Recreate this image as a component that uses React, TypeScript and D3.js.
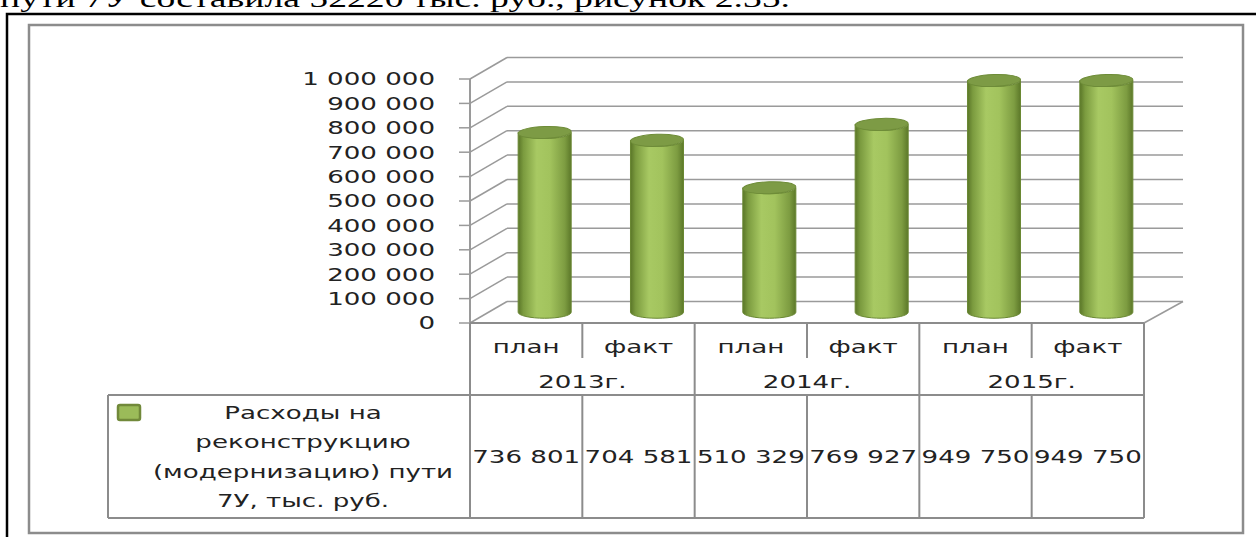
import React, { useRef, useEffect } from 'react'
import * as d3 from 'd3'

// данные диаграммы
const years = ['2013г.', '2014г.', '2015г.']
const periods = ['план', 'факт']
const values = [736801, 704581, 510329, 769927, 949750, 949750]
const legendLines = ['Расходы на', 'реконструкцию', '(модернизацию) пути', '7У, тыс. руб.']
const headerText = 'пути 7У составила 52220 тыс. руб., рисунок 2.35.'

const W = 1256
const H = 537
const FONT = '"DejaVu Sans", sans-serif'
const SX = 1.45 // текст в оригинале растянут по горизонтали

export default function App() {
    const svgRef = useRef<SVGSVGElement>(null)

    useEffect(() => {
        const svg = d3.select(svgRef.current)
        svg.selectAll('*').remove()

        const categories = years.flatMap((y) => periods.map((p) => `${y} ${p}`))
        const fmt = d3.formatLocale({ thousands: ' ', grouping: [3], decimal: ',', currency: ['', ''] }).format(',')

        // геометрия области построения
        const left = 470
        const right = 1144
        const depth = { dx: 37, dy: -21.5 }
        const tableTop = 323
        const rowSplit = 358
        const yearLine = 395
        const tableBottom = 518
        const legendLeft = 108

        const x = d3.scaleBand<string>().domain(categories).range([left, right]).paddingInner(0)
        const y = d3.scaleLinear().domain([0, 1000000]).range([tableTop, 79])
        const ticks = y.ticks(10)
        const grid = '#9a9a9a'
        const border = '#8c8c8c'

        const label = (
            parent: d3.Selection<any, unknown, null, undefined>,
            px: number,
            py: number,
            str: string,
            anchor = 'middle',
            size = 18,
        ) =>
            parent
                .append('text')
                .attr('transform', `translate(${px},${py}) scale(${SX},1)`)
                .attr('text-anchor', anchor)
                .attr('dy', '0.36em')
                .style('font-family', FONT)
                .style('font-size', size + 'px')
                .attr('fill', '#222')
                .text(str)

        // текст документа сверху (обрезан)
        svg.append('text')
            .attr('x', 0)
            .attr('y', 7)
            .attr('textLength', 790)
            .attr('lengthAdjust', 'spacingAndGlyphs')
            .style('font-family', '"Liberation Serif", serif')
            .style('font-size', '26px')
            .attr('fill', '#000')
            .text(headerText)

        // рамка страницы
        svg.append('path')
            .attr('d', `M7,${H} V14 H${W}`)
            .attr('fill', 'none')
            .attr('stroke', '#000')
            .attr('stroke-width', 2.5)

        // рамка диаграммы
        svg.append('rect')
            .attr('x', 29)
            .attr('y', 25)
            .attr('width', 1214)
            .attr('height', 508)
            .attr('fill', '#fff')
            .attr('stroke', border)
            .attr('stroke-width', 2.5)

        const g = svg.append('g')

        // линии сетки: задняя стенка и левая стенка
        ticks.forEach((t) => {
            const yf = y(t)
            const yb = yf + depth.dy
            g.append('line')
                .attr('x1', left + depth.dx)
                .attr('x2', right + depth.dx + 2)
                .attr('y1', yb)
                .attr('y2', yb)
                .attr('stroke', grid)
                .attr('stroke-width', 1.5)
            g.append('line')
                .attr('x1', left)
                .attr('x2', left + depth.dx)
                .attr('y1', yf)
                .attr('y2', yb)
                .attr('stroke', grid)
                .attr('stroke-width', 1.5)
            // засечки
            g.append('line')
                .attr('x1', left - 11)
                .attr('x2', left)
                .attr('y1', yf)
                .attr('y2', yf)
                .attr('stroke', grid)
                .attr('stroke-width', 1.5)
            label(g, 435, yf, fmt(t), 'end')
        })

        // пол (правая грань)
        g.append('line')
            .attr('x1', right)
            .attr('y1', tableTop)
            .attr('x2', right + depth.dx + 2)
            .attr('y2', tableTop + depth.dy)
            .attr('stroke', grid)
            .attr('stroke-width', 1.5)

        // ось Y
        g.append('line')
            .attr('x1', left)
            .attr('x2', left)
            .attr('y1', y(1000000))
            .attr('y2', tableTop)
            .attr('stroke', grid)
            .attr('stroke-width', 2)

        // градиент цилиндров
        const defs = svg.append('defs')
        const grad = defs
            .append('linearGradient')
            .attr('id', 'cyl')
            .attr('x1', '0%')
            .attr('x2', '100%')
            .attr('y1', '0%')
            .attr('y2', '0%')
        ;[
            [0, '#5a7628'],
            [0.1, '#7b9b3f'],
            [0.35, '#a8c963'],
            [0.6, '#a2c35d'],
            [0.88, '#7d9c41'],
            [1, '#5c7829'],
        ].forEach(([o, c]) => grad.append('stop').attr('offset', o as number).attr('stop-color', c as string))

        // цилиндры
        const rx = x.bandwidth() * 0.236
        const ry = 6
        const base = y(0) + depth.dy / 2
        categories.forEach((c, i) => {
            const cx = x(c)! + x.bandwidth() / 2 + depth.dx / 2
            const top = y(values[i]) + depth.dy / 2
            g.append('path')
                .attr(
                    'd',
                    `M${cx - rx},${top} L${cx - rx},${base} A${rx},${ry} 0 0 0 ${cx + rx},${base} L${cx + rx},${top} A${rx},${ry} 0 0 1 ${cx - rx},${top} Z`,
                )
                .attr('fill', 'url(#cyl)')
                .attr('stroke', '#6a8833')
                .attr('stroke-width', 1)
            g.append('ellipse')
                .attr('cx', cx)
                .attr('cy', top)
                .attr('rx', rx)
                .attr('ry', ry)
                .attr('transform', `rotate(-2,${cx},${top})`)
                .attr('fill', '#7d9b45')
                .attr('stroke', '#6e8c38')
                .attr('stroke-width', 1)
        })

        // таблица данных
        const t = svg.append('g')
        const tl = (x1: number, y1: number, x2: number, y2: number) =>
            t.append('line')
                .attr('x1', x1)
                .attr('y1', y1)
                .attr('x2', x2)
                .attr('y2', y2)
                .attr('stroke', border)
                .attr('stroke-width', 2)

        tl(left, tableTop, right, tableTop)
        tl(legendLeft, yearLine, right, yearLine)
        tl(legendLeft, tableBottom, right, tableBottom)
        tl(legendLeft, yearLine, legendLeft, tableBottom)
        tl(left, tableTop, left, tableBottom)
        categories.forEach((c, i) => {
            const xr = x(c)! + x.bandwidth()
            if (i % 2 === 0) {
                tl(xr, tableTop, xr, rowSplit)
                tl(xr, yearLine, xr, tableBottom)
            } else {
                tl(xr, tableTop, xr, tableBottom)
            }
            const cx = x(c)! + x.bandwidth() / 2
            label(t, cx, 347, periods[i % 2])
            label(t, cx, 457, fmt(values[i]))
        })
        years.forEach((yr, j) => {
            const cx = x(categories[j * 2])! + x.bandwidth()
            label(t, cx, 382, yr)
        })

        // легенда
        t.append('rect')
            .attr('x', 118)
            .attr('y', 405)
            .attr('width', 22)
            .attr('height', 15)
            .attr('rx', 2)
            .attr('fill', '#9bbb59')
            .attr('stroke', '#71893a')
            .attr('stroke-width', 2.5)
        const midY = (yearLine + tableBottom) / 2
        legendLines.forEach((ln, i) => {
            label(t, 303, midY + (i - (legendLines.length - 1) / 2) * 29.5, ln)
        })
    }, [])

    return (
        <svg
            ref={svgRef}
            width={W}
            height={H}
            style={{ position: 'absolute', left: 0, top: 0, background: '#fff' }}
        />
    )
}
